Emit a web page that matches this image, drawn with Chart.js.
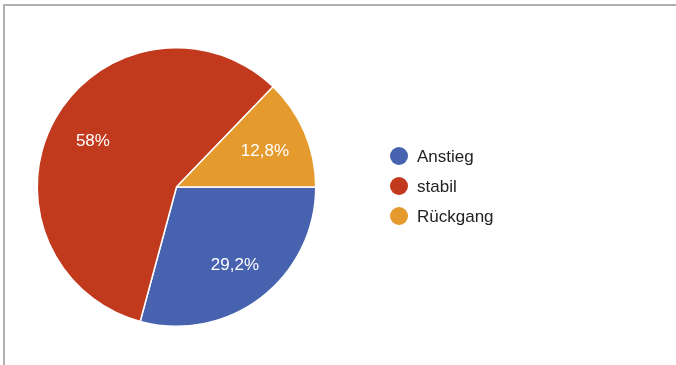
<!DOCTYPE html>
<html>
<head>
<meta charset="utf-8">
<script src="https://cdn.jsdelivr.net/npm/chart.js@4/dist/chart.umd.min.js"></script>
<style>
html,body{margin:0;padding:0;background:#fff;}
#wrap{position:relative;width:676px;height:365px;overflow:hidden;}
#frame{position:absolute;left:3px;top:4px;width:700px;height:400px;border-left:2px solid #b0b0b0;border-top:2px solid #b0b0b0;box-sizing:border-box;}
canvas{position:absolute;left:0;top:0;}
</style>
</head>
<body>
<div id="wrap">
<div id="frame"></div>
<canvas id="c" width="676" height="365"></canvas>
</div>
<script>
const categories = ["Anstieg", "stabil", "Rückgang"];
const values = [29.2, 58, 12.8];
const valueLabels = ["29,2%", "58%", "12,8%"];
const colors = ["#4762ae", "#c23a1e", "#e49a2c"];

const sliceLabels = {
  id: 'sliceLabels',
  afterDatasetsDraw(chart) {
    const ctx = chart.ctx;
    const meta = chart.getDatasetMeta(0);
    ctx.save();
    ctx.fillStyle = '#ffffff';
    ctx.font = '17px "Liberation Sans", Arial, sans-serif';
    ctx.textAlign = 'center';
    ctx.textBaseline = 'middle';
    meta.data.forEach((arc, i) => {
      const p = arc.getProps(['x','y','startAngle','endAngle','outerRadius'], true);
      const mid = (p.startAngle + p.endAngle) / 2;
      const r = p.outerRadius * 0.69;
      ctx.fillText(valueLabels[i], p.x + Math.cos(mid) * r, p.y + Math.sin(mid) * r + 2);
    });
    ctx.restore();
  }
};

const sideLegend = {
  id: 'sideLegend',
  afterDraw(chart) {
    const ctx = chart.ctx;
    const ds = chart.data.datasets[0];
    ctx.save();
    ctx.font = '17px "Liberation Sans", Arial, sans-serif';
    ctx.textBaseline = 'middle';
    ctx.textAlign = 'left';
    chart.data.labels.forEach((lab, i) => {
      const y = 156 + i * 30;
      ctx.beginPath();
      ctx.arc(399, y, 9, 0, Math.PI * 2);
      ctx.fillStyle = ds.backgroundColor[i];
      ctx.fill();
      ctx.fillStyle = '#222222';
      ctx.fillText(lab, 417, y + 1);
    });
    ctx.restore();
  }
};

new Chart(document.getElementById('c'), {
  type: 'pie',
  data: {
    labels: categories,
    datasets: [{
      data: values,
      backgroundColor: colors,
      borderColor: '#ffffff',
      borderWidth: 1.5
    }]
  },
  options: {
    responsive: false,
    animation: false,
    rotation: 90,
    layout: { padding: { left: 36, top: 47, right: 359, bottom: 38 } },
    plugins: {
      legend: { display: false },
      tooltip: { enabled: false }
    }
  },
  plugins: [sliceLabels, sideLegend]
});
</script>
</body>
</html>
